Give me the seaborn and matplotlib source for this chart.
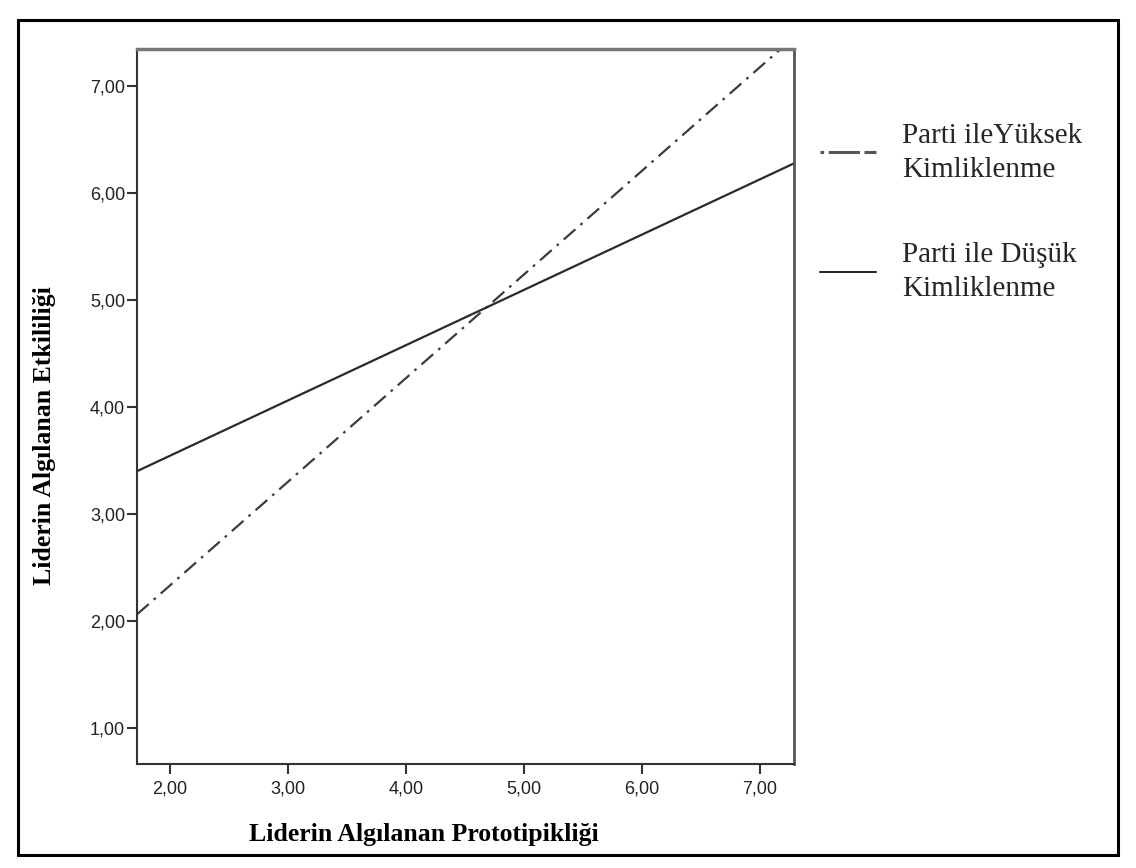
import numpy as np
import pandas as pd
import seaborn as sns
import matplotlib.pyplot as plt
from matplotlib.patches import Rectangle
from matplotlib.lines import Line2D
from matplotlib.ticker import FuncFormatter

# values (line endpoints at the axis edges)
prototip = [1.72, 7.29]
yuksek = [2.06, 7.46]
dusuk = [3.40, 6.28]
groups = ['Parti ileYüksek\nKimliklenme', 'Parti ile Düşük\nKimliklenme']
ticks = [2, 3, 4, 5, 6, 7]

df = pd.DataFrame({
    'x': prototip * 2,
    'y': yuksek + dusuk,
    'grup': [groups[0]] * 2 + [groups[1]] * 2,
})

sns.set_style('white')
plt.rcParams['font.family'] = ['Liberation Sans', 'DejaVu Sans']

fig = plt.figure(figsize=(11.36, 8.68), dpi=100)
ax = fig.add_axes([0.1206, 0.1198, 0.5783, 0.8237])

sns.lineplot(data=df, x='x', y='y', hue='grup', style='grup',
             palette=['#3c3c3c', '#2a2a2a'],
             dashes={groups[0]: (7, 3, 1.2, 3), groups[1]: ''},
             linewidth=1.6, legend=False, ax=ax)

ax.set_xlim(1.72, 7.29)
ax.set_ylim(0.66, 7.35)
ax.set_xticks(ticks)
ax.set_yticks([1] + ticks)
fmt = FuncFormatter(lambda v, p: f'{v:.2f}'.replace('.', ','))
ax.xaxis.set_major_formatter(fmt)
ax.yaxis.set_major_formatter(fmt)
ax.tick_params(axis='both', direction='out', length=7, width=1.5,
               color='#333333', labelsize=13, labelcolor='#222222',
               left=True, bottom=True)
ax.tick_params(axis='x', pad=5)
ax.tick_params(axis='y', pad=1.5)

for side in ['left', 'bottom', 'right']:
    ax.spines[side].set_color('#333333')
    ax.spines[side].set_linewidth(1.5)
ax.spines['top'].set_color('#777777')
ax.spines['top'].set_linewidth(2.5)
ax.spines['right'].set_color('#555555')
ax.spines['right'].set_linewidth(2)

ax.set_xlabel('Liderin Algılanan Prototipikliği', family='Liberation Serif',
              fontweight='bold', fontsize=18.5, color='black')
ax.xaxis.set_label_coords(0.436, -0.082)
ax.set_ylabel('Liderin Algılanan Etkililiği', family='Liberation Serif',
              fontweight='bold', fontsize=18.5, color='black')
ax.yaxis.set_label_coords(-0.123, 0.46)

handles = [
    Line2D([], [], color='#555555', linewidth=2.2, dashes=(1.2, 1.5, 9, 0)),
    Line2D([], [], color='#222222', linewidth=1.4),
]
leg = fig.legend(handles, groups, loc='upper left',
                 bbox_to_anchor=(0.699, 0.889), frameon=False,
                 prop={'family': 'Liberation Serif', 'size': 21},
                 handlelength=1.9, handletextpad=0.9, labelspacing=2.05)
for t in leg.get_texts():
    t.set_linespacing(1.4)

# outer frame around the whole figure
fig.patches.append(Rectangle((18 / 1136, 13 / 868), 1100 / 1136, 835 / 868,
                             transform=fig.transFigure, fill=False,
                             edgecolor='black', linewidth=2.2))

fig.savefig('out.png', dpi=100)
